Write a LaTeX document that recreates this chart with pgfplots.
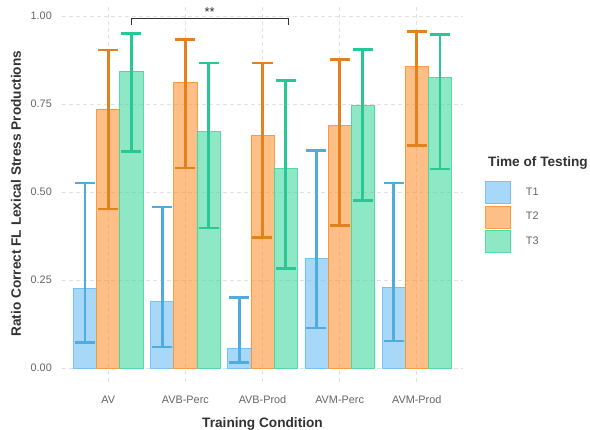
\documentclass[border=0pt]{standalone}
\usepackage{pgfplots}
\pgfplotsset{compat=1.18}
\usepackage{pgfplotstable}
\usepackage{fontspec}
\setmainfont{Liberation Sans}
\definecolor{bT1}{RGB}{110,190,243}
\definecolor{bT2}{RGB}{252,148,53}
\definecolor{bT3}{RGB}{67,217,160}
\definecolor{eT1}{RGB}{80,172,222}
\definecolor{eT2}{RGB}{225,130,30}
\definecolor{eT3}{RGB}{40,200,150}
\definecolor{tickgray}{RGB}{100,100,100}
\definecolor{titlegray}{RGB}{50,50,50}
\definecolor{gridgray}{RGB}{225,225,225}

% x: category, y: mean, ep: upper error, em: lower error
\pgfplotstableread{
x y ep em
0 0.226 0.299 0.154
1 0.188 0.269 0.128
2 0.056 0.144 0.041
3 0.312 0.306 0.199
4 0.229 0.296 0.153
}\tT
\pgfplotstableread{
x y ep em
0 0.736 0.167 0.284
1 0.811 0.122 0.243
2 0.661 0.205 0.290
3 0.688 0.189 0.284
4 0.856 0.099 0.224
}\tTT
\pgfplotstableread{
x y ep em
0 0.843 0.107 0.228
1 0.671 0.195 0.274
2 0.567 0.249 0.285
3 0.746 0.159 0.270
4 0.826 0.121 0.261
}\tTTT

\pgfplotsset{
  errstyle/.style={forget plot, draw=none, mark=none,
    error bars/.cd, y dir=both, y explicit,
    error bar style={line width=2.6bp, color=#1, solid},
    error mark=|,
    error mark options={mark size=10bp, line width=2.6bp, color=#1, solid}},
}

\begin{document}
\begin{tikzpicture}
\useasboundingbox (-62bp,-48bp) rectangle (528bp,382bp);
\begin{axis}[
  at={(0,0)}, anchor=south west,
  scale only axis, width=401bp, height=376.6bp,
  xmin=-0.6, xmax=4.6, ymin=-0.04, ymax=1.03,
  clip=false,
  axis line style={draw=none},
  tick style={draw=none},
  xtick={0,1,2,3,4},
  xticklabels={AV,AVB-Perc,AVB-Prod,AVM-Perc,AVM-Prod},
  ytick={0,0.25,0.5,0.75,1},
  yticklabels={0.00,0.25,0.50,0.75,1.00},
  xticklabel style={inner sep=0pt, anchor=center, yshift=-18bp, font=\fontsize{10.9}{13}\selectfont, text=tickgray},
  yticklabel style={inner sep=0pt, anchor=east, xshift=-10bp, font=\fontsize{10.9}{13}\selectfont, text=tickgray},
  grid=major,
  major grid style={dash pattern=on 4bp off 3bp, color=gridgray, line width=0.7bp},
  legend style={at={(1.0549,0.5337)}, anchor=north west, draw=none, fill=none,
    font=\fontsize{10.9}{13}\selectfont\color{tickgray}, row sep=1.6bp, inner sep=0pt,
    nodes={inner sep=0pt, anchor=west},
    /tikz/every odd column/.append style={column sep=15bp}},
  legend image code/.code={\draw[#1] (0bp,-11bp) rectangle (25bp,11bp);},
]
\addplot[ybar, bar width=0.3, bar shift=-0.3, fill=bT1, fill opacity=0.6, draw=bT1, draw opacity=0.9, line width=0.7bp]
  table[x=x, y=y] {\tT};
\addlegendentry{T1}
\addplot[ybar, bar width=0.3, bar shift=0, fill=bT2, fill opacity=0.6, draw=bT2, draw opacity=0.9, line width=0.7bp]
  table[x=x, y=y] {\tTT};
\addlegendentry{T2}
\addplot[ybar, bar width=0.3, bar shift=0.3, fill=bT3, fill opacity=0.6, draw=bT3, draw opacity=0.9, line width=0.7bp]
  table[x=x, y=y] {\tTTT};
\addlegendentry{T3}
\addplot[errstyle=eT1] table[x expr=\thisrow{x}-0.3, y=y, y error plus=ep, y error minus=em] {\tT};
\addplot[errstyle=eT2] table[x=x, y=y, y error plus=ep, y error minus=em] {\tTT};
\addplot[errstyle=eT3] table[x expr=\thisrow{x}+0.3, y=y, y error plus=ep, y error minus=em] {\tTTT};
\addplot[forget plot, sharp plot, color=titlegray, line width=0.8bp, mark=none]
  coordinates {(0.3,0.974) (0.3,0.9935) (2.33,0.9935) (2.33,0.974)};
\node[font=\fontsize{13}{15}\selectfont, text=titlegray, inner sep=0pt] at (axis cs:1.315,1.010) {**};
\node[font=\bfseries\fontsize{13.7}{16}\selectfont, text=titlegray, inner sep=0pt, anchor=base] at (rel axis cs:0.5,-0.1221) {Training Condition};
\node[font=\bfseries\fontsize{13.7}{16}\selectfont, text=titlegray, inner sep=0pt, rotate=90, anchor=center] at (rel axis cs:-0.1147,0.5) {Ratio Correct FL Lexical Stress Productions};
\node[font=\bfseries\fontsize{13.7}{16}\selectfont, text=titlegray, inner sep=0pt, anchor=west] at (rel axis cs:1.0623,0.5807) {Time of Testing};
\end{axis}
\end{tikzpicture}
\end{document}
